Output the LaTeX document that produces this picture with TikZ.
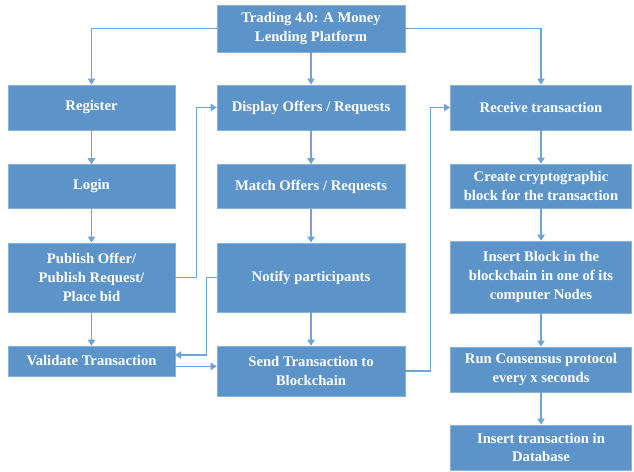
\documentclass[tikz,border=0pt]{standalone}
\usepackage{fontspec}
\setmainfont{Liberation Serif}
\usetikzlibrary{arrows.meta}
\definecolor{boxblue}{RGB}{92,148,202}
\definecolor{boxedge}{RGB}{135,178,222}
\definecolor{lineblue}{RGB}{110,163,216}

\begin{document}
\begin{tikzpicture}[x=0.75pt,y=-0.75pt,
  box/.style={fill=boxblue,draw=boxedge,text=white,align=center,
    font=\fontsize{11}{14}\selectfont\bfseries,inner sep=2pt},
  arr/.style={draw=lineblue,line width=0.9pt,-{Triangle[length=4.5pt,width=5.5pt]}}]
\useasboundingbox (0,0) rectangle (634,471);
\node[box,minimum width=141pt,minimum height=35pt] (top) at (311,28.5) {Trading 4.0: A Money\\Lending Platform};
\node[box,minimum width=125pt,minimum height=34pt] (register) at (91.5,107.5) {Register};
\node[box,minimum width=141pt,minimum height=34pt] (display) at (311,107.5) {Display Offers / Requests};
\node[box,minimum width=136pt,minimum height=34pt] (receive) at (541,107.5) {Receive transaction};
\node[box,minimum width=125pt,minimum height=33pt] (login) at (91.5,186.5) {Login};
\node[box,minimum width=141pt,minimum height=33pt] (match) at (311,186.5) {Match Offers / Requests};
\node[box,minimum width=136pt,minimum height=33pt] (create) at (541,186) {Create cryptographic\\block for the transaction};
\node[box,minimum width=125pt,minimum height=52pt] (publish) at (91.5,277.5) {Publish Offer/\\Publish Request/\\Place bid};
\node[box,minimum width=141pt,minimum height=52pt] (notify) at (311,277.5) {Notify participants};
\node[box,minimum width=136pt,minimum height=54pt] (insert) at (541,277) {Insert Block in the\\blockchain in one of its\\computer Nodes};
\node[box,minimum width=125pt,minimum height=22.5pt] (validate) at (91.5,361) {Validate Transaction};
\node[box,minimum width=141pt,minimum height=37.5pt] (send) at (311,371) {Send Transaction to\\Blockchain};
\node[box,minimum width=136pt,minimum height=34pt] (consensus) at (541,369.5) {Run Consensus protocol\\every x seconds};
\node[box,minimum width=136pt,minimum height=34pt] (database) at (541,447.5) {Insert transaction in\\Database};

\draw[arr] (top.west) -| (register.north);
\draw[arr] (top) -- (display);
\draw[arr] (top.east) -| (receive.north);
\foreach \a/\b in {register/login, login/publish, publish/validate,
                   display/match, match/notify, notify/send,
                   receive/create, create/insert, insert/consensus, consensus/database}
  \draw[arr] (\a) -- (\b);
\draw[arr] (publish.east) -- ++(21,0) |- (display.west);
\draw[arr] (notify.west) -- ++(-10,0) |- ([yshift=4.5pt]validate.east);
\draw[arr] ([yshift=-4pt]validate.east) -- ([yshift=-4pt]validate.east -| send.west);
\draw[arr] (send.east) -- ++(25,0) |- (receive.west);
\end{tikzpicture}
\end{document}
